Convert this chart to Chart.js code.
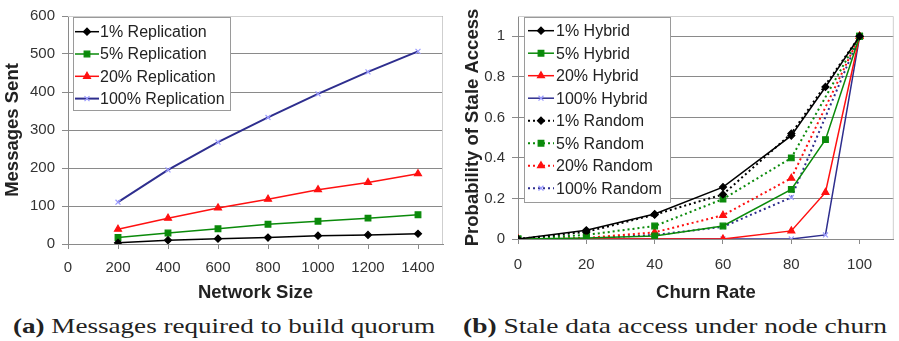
<!DOCTYPE html>
<html lang="en">
<head>
    <meta charset="UTF-8">
    <title>Quorum messages and stale access</title>
    <script src="https://cdn.jsdelivr.net/npm/chart.js@4.4.1/dist/chart.umd.min.js"></script>
    <style>
        body { margin: 0; background: #fff; width: 899px; height: 341px; overflow: hidden; position: relative; }
        .panel { position: absolute; top: 0; }
        .caption {
            position: absolute; top: 315px; font-family: "Liberation Serif", "DejaVu Serif", serif;
            font-size: 22px; line-height: 22px; color: #222; white-space: nowrap; transform-origin: 0 0;
        }
        .caption b { font-weight: bold; }
    </style>
</head>
<body>
    <div class="panel" style="left:0"><canvas id="chartA" width="450" height="305"></canvas></div>
    <div class="panel" style="left:450px"><canvas id="chartB" width="449" height="305"></canvas></div>
    <div class="caption" id="capA" data-w="422" style="left:13px"><b>(a)</b> Messages required to build quorum</div>
    <div class="caption" id="capB" data-w="424" style="left:463px"><b>(b)</b> Stale data access under node churn</div>

    <script>
        // chart (a): messages sent vs network size
        const netSizes = [200, 400, 600, 800, 1000, 1200, 1400];
        const rep1 = [3, 10, 14, 17, 22, 24, 27];
        const rep5 = [17, 29, 40, 52, 60, 68, 77];
        const rep20 = [39, 68, 95, 118, 143, 162, 185];
        const rep100 = [110, 195, 268, 333, 395, 453, 507];
        const ticksAX = [0, 200, 400, 600, 800, 1000, 1200, 1400];
        const ticksAY = [0, 100, 200, 300, 400, 500, 600];

        // chart (b): stale access probability vs churn rate
        const churnHybrid = [0, 20, 40, 60, 80, 90, 100];
        const hyb1 = [0, 0.043, 0.123, 0.256, 0.51, 0.75, 1];
        const hyb5 = [0, 0.005, 0.015, 0.064, 0.245, 0.49, 1];
        const hyb20 = [0, 0, 0, 0, 0.04, 0.23, 1];
        const hyb100 = [0, 0, 0, 0, 0, 0.02, 1];
        const churnRandom = [0, 20, 40, 60, 80, 100];
        const rnd1 = [0, 0.035, 0.12, 0.22, 0.52, 1];
        const rnd5 = [0, 0.02, 0.064, 0.197, 0.40, 1];
        const rnd20 = [0, 0.005, 0.033, 0.117, 0.30, 1];
        const rnd100 = [0, 0.003, 0.02, 0.06, 0.205, 1];
        const ticksBX = [0, 20, 40, 60, 80, 100];
        const ticksBY = [0, 0.2, 0.4, 0.6, 0.8, 1];

        const FONT = '"Liberation Sans", Arial, sans-serif';
        const GRID = '#8a8a8a';

        function pts(xs, ys) {
            return xs.map((x, i) => ({ x: x, y: ys[i] }));
        }

        const styles = {
            p1:   { color: '#000000', mark: '#000000', pointStyle: 'rectRot', r: 3.5 },
            p5:   { color: '#0a8a0a', mark: '#0a8a0a', pointStyle: 'rect', r: 4 },
            p20:  { color: '#ff1010', mark: '#ff1010', pointStyle: 'triangle', r: 4 },
            p100: { color: '#2e2e8e', mark: '#9a9aff', pointStyle: 'crossRot', r: 3.5 }
        };

        function series(label, xs, ys, st, dotted, width) {
            return {
                label: label,
                data: pts(xs, ys),
                borderColor: st.color,
                backgroundColor: st.mark,
                borderWidth: width,
                borderDash: dotted ? [2, 3] : [],
                pointStyle: st.pointStyle,
                pointRadius: st.r,
                pointBorderColor: st.mark,
                pointBackgroundColor: st.mark,
                pointBorderWidth: 1.2,
                tension: 0
            };
        }

        // legend drawn in a box inside the plot area, from the dataset styles
        const boxLegend = {
            id: 'boxLegend',
            afterDraw(chart, args, o) {
                const ctx = chart.ctx;
                ctx.save();
                ctx.fillStyle = '#fff';
                ctx.fillRect(o.x, o.y, o.w, o.h);
                ctx.strokeStyle = '#9a9a9a';
                ctx.lineWidth = 1;
                ctx.strokeRect(o.x + 0.5, o.y + 0.5, o.w, o.h);
                ctx.font = '16px ' + FONT;
                ctx.textBaseline = 'middle';
                chart.data.datasets.forEach((ds, i) => {
                    const cy = o.firstRow + i * o.rowH;
                    ctx.strokeStyle = ds.borderColor;
                    ctx.lineWidth = ds.borderWidth;
                    ctx.setLineDash(ds.borderDash);
                    ctx.beginPath();
                    ctx.moveTo(o.lineX, cy);
                    ctx.lineTo(o.lineX + o.lineLen, cy);
                    ctx.stroke();
                    ctx.setLineDash([]);
                    ctx.fillStyle = ds.pointBackgroundColor;
                    ctx.strokeStyle = ds.pointBorderColor;
                    ctx.lineWidth = ds.pointBorderWidth;
                    Chart.helpers.drawPoint(ctx, { pointStyle: ds.pointStyle, radius: ds.pointRadius, rotation: 0, borderWidth: ds.pointBorderWidth },
                        o.lineX + o.lineLen / 2, cy);
                    ctx.fillStyle = '#222';
                    ctx.fillText(ds.label, o.textX, cy + 1);
                });
                ctx.restore();
            }
        };

        // light frame around the plot area
        const plotFrame = {
            id: 'plotFrame',
            beforeDatasetsDraw(chart) {
                const a = chart.chartArea, ctx = chart.ctx;
                ctx.save();
                ctx.strokeStyle = '#cfcfcf';
                ctx.lineWidth = 1;
                ctx.beginPath();
                ctx.moveTo(a.left, a.top + 0.5);
                ctx.lineTo(a.right - 0.5, a.top + 0.5);
                ctx.lineTo(a.right - 0.5, a.bottom);
                ctx.stroke();
                ctx.restore();
            }
        };

        function axes(o) {
            return {
                x: {
                    type: 'linear', min: 0, max: o.xMax,
                    afterBuildTicks: s => { s.ticks = o.xTicks.map(v => ({ value: v })); },
                    afterFit: s => { s.height = o.xH; },
                    grid: { drawOnChartArea: false, drawTicks: true, tickLength: 5, color: GRID },
                    border: { color: GRID, width: 1 },
                    ticks: { color: '#333', font: { family: FONT, size: 15 }, padding: o.xPad, maxRotation: 0, callback: v => String(v) },
                    title: { display: true, text: o.xTitle, color: '#222', font: { family: FONT, size: 18.5, weight: 'bold' }, padding: { top: 0, bottom: 1 } }
                },
                y: {
                    type: 'linear', min: 0, max: o.yMax,
                    afterBuildTicks: s => { s.ticks = o.yTicks.map(v => ({ value: v })); },
                    afterFit: s => { s.width = 68; },
                    grid: { color: GRID, tickLength: 6, lineWidth: 1 },
                    border: { color: GRID, width: 1 },
                    ticks: { color: '#333', font: { family: FONT, size: 15 }, padding: 7, callback: v => String(v) },
                    title: { display: true, text: o.yTitle, color: '#222', font: { family: FONT, size: 18.5, weight: 'bold' }, padding: { top: o.yTitlePad, bottom: 0 } }
                }
            };
        }

        new Chart(document.getElementById('chartA'), {
            type: 'line',
            data: {
                datasets: [
                    series('1% Replication', netSizes, rep1, styles.p1, false, 1.5),
                    series('5% Replication', netSizes, rep5, styles.p5, false, 1.5),
                    series('20% Replication', netSizes, rep20, styles.p20, false, 1.5),
                    series('100% Replication', netSizes, rep100, styles.p100, false, 2)
                ]
            },
            options: {
                responsive: false,
                animation: false,
                devicePixelRatio: 1,
                layout: { padding: { top: 13, right: 7, left: 0, bottom: 0 } },
                scales: axes({ xMax: 1500, xTicks: ticksAX, xH: 61, xPad: 10, xTitle: 'Network Size',
                               yMax: 600, yTicks: ticksAY, yTitle: 'Messages Sent', yTitlePad: 2 }),
                plugins: {
                    legend: { display: false },
                    tooltip: { enabled: false },
                    boxLegend: { x: 73, y: 17, w: 157, h: 93, firstRow: 31.7, rowH: 22.3, lineX: 75, lineLen: 24, textX: 100 }
                }
            },
            plugins: [plotFrame, boxLegend]
        });

        new Chart(document.getElementById('chartB'), {
            type: 'line',
            data: {
                datasets: [
                    series('1% Hybrid', churnHybrid, hyb1, styles.p1, false, 1.5),
                    series('5% Hybrid', churnHybrid, hyb5, styles.p5, false, 1.5),
                    series('20% Hybrid', churnHybrid, hyb20, styles.p20, false, 1.5),
                    series('100% Hybrid', churnHybrid, hyb100, styles.p100, false, 1.5),
                    series('1% Random', churnRandom, rnd1, styles.p1, true, 2),
                    series('5% Random', churnRandom, rnd5, styles.p5, true, 2),
                    series('20% Random', churnRandom, rnd20, styles.p20, true, 2),
                    series('100% Random', churnRandom, rnd100, styles.p100, true, 2)
                ]
            },
            options: {
                responsive: false,
                animation: false,
                devicePixelRatio: 1,
                layout: { padding: { top: 12, right: 0, left: 0, bottom: 0 } },
                scales: axes({ xMax: 110, xTicks: ticksBX, xH: 66, xPad: 12, xTitle: 'Churn Rate',
                               yMax: 1.1, yTicks: ticksBY, yTitle: 'Probability of Stale Access', yTitlePad: 12 }),
                plugins: {
                    legend: { display: false },
                    tooltip: { enabled: false },
                    boxLegend: { x: 74, y: 17, w: 146, h: 185, firstRow: 30.7, rowH: 22.5, lineX: 78, lineLen: 26, textX: 106 }
                }
            },
            plugins: [plotFrame, boxLegend]
        });

        // stretch captions to the width of the original typeset lines
        document.querySelectorAll('.caption').forEach(el => {
            const w = el.getBoundingClientRect().width;
            el.style.transform = 'scaleX(' + (Number(el.dataset.w) / w) + ')';
        });
    </script>
</body>
</html>
